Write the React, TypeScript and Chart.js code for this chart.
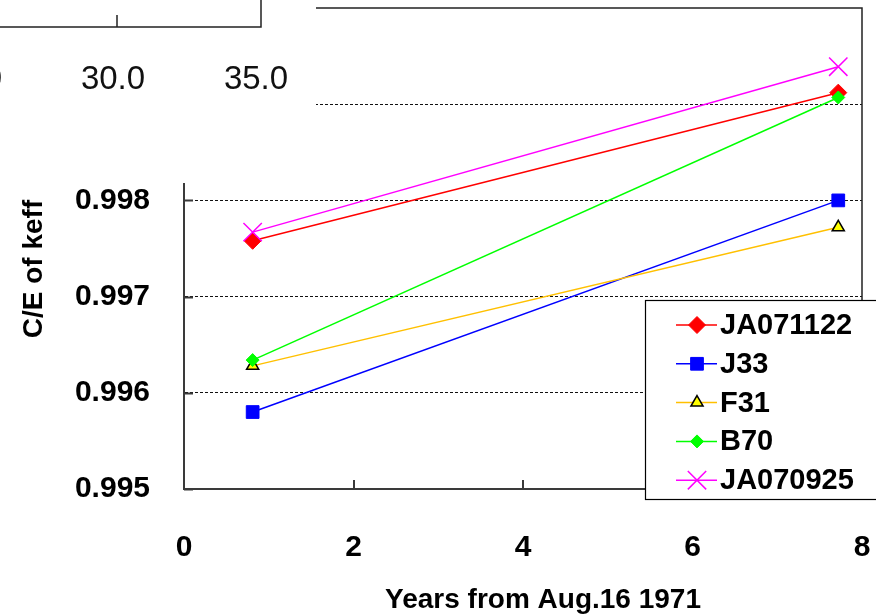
import React, { useEffect, useRef } from "react";
import { Chart, registerables } from "chart.js";
import { drawPoint } from "chart.js/helpers";

Chart.register(...registerables);

// Years elapsed since Aug. 16 1971 for the two measurements
const years = [0.81, 7.72];

// C/E of keff per core
const seriesNames = ["JA071122", "J33", "F31", "B70", "JA070925"];
const ja071122 = [0.99758, 0.99912];
const j33 = [0.9958, 0.998];
const f31 = [0.99628, 0.99772];
const b70 = [0.99634, 0.99907];
const ja070925 = [0.99767, 0.99939];

// axis extents
const xMin = 0;
const xMax = 8;
const xStep = 2;
const yMin = 0.995;
const yMax = 1.0;
const yStep = 0.001;

// tick labels of the neighbouring panel peeking in at the top-left
const neighbourTicks = [25, 30, 35];

const FONT = '"Liberation Sans", Arial, Helvetica, sans-serif';
const AXIS = "#3a3a3a";

// plot rectangle on the canvas
const PLOT_LEFT = 184;
const PLOT_TOP = 8;
const PLOT_RIGHT = 862;
const PLOT_BOTTOM = 489;
const W = 876;
const H = 616;

type SeriesStyle = {
  line: string;
  fill: string;
  stroke: string;
  pointStyle: string;
  radius: number;
  pointBorderWidth: number;
};

const styles: SeriesStyle[] = [
  { line: "#ff0000", fill: "#ff0000", stroke: "#ff0000", pointStyle: "rectRot", radius: 8.5, pointBorderWidth: 1 },
  { line: "#0000ff", fill: "#0000ff", stroke: "#0000ff", pointStyle: "rect", radius: 9, pointBorderWidth: 1 },
  { line: "#ffc000", fill: "#ffff00", stroke: "#000000", pointStyle: "triangle", radius: 7, pointBorderWidth: 1.5 },
  { line: "#00ff00", fill: "#00ff00", stroke: "#00ff00", pointStyle: "rectRot", radius: 6.5, pointBorderWidth: 1 },
  { line: "#ff00ff", fill: "#ff00ff", stroke: "#ff00ff", pointStyle: "crossRot", radius: 13, pointBorderWidth: 1.5 },
];

const seriesValues = [ja071122, j33, f31, b70, ja070925];

const near = (a: number, b: number) => Math.abs(a - b) < 1e-9;

// pins the chart area to the plot rectangle regardless of label sizes
const pinAreaPlugin = {
  id: "pinArea",
  afterLayout(chart: any) {
    const a = chart.chartArea;
    a.left = PLOT_LEFT;
    a.top = PLOT_TOP;
    a.right = PLOT_RIGHT;
    a.bottom = PLOT_BOTTOM;
    a.width = PLOT_RIGHT - PLOT_LEFT;
    a.height = PLOT_BOTTOM - PLOT_TOP;
    const sx = chart.scales.x;
    const sy = chart.scales.y;
    sx.left = PLOT_LEFT;
    sx.right = PLOT_RIGHT;
    sx.width = PLOT_RIGHT - PLOT_LEFT;
    sx.top = PLOT_BOTTOM;
    sx.bottom = H;
    sx.height = H - PLOT_BOTTOM;
    sy.top = PLOT_TOP;
    sy.bottom = PLOT_BOTTOM;
    sy.height = PLOT_BOTTOM - PLOT_TOP;
    sy.left = 0;
    sy.right = PLOT_LEFT;
    sy.width = PLOT_LEFT;
    sx.configure();
    sy.configure();
  },
};

const decorPlugin = {
  id: "decor",
  afterDraw(chart: any) {
    const { ctx, chartArea: a, scales } = chart;
    const sx = scales.x;
    const sy = scales.y;
    ctx.save();

    // inward tick marks
    ctx.strokeStyle = AXIS;
    ctx.lineWidth = 2;
    ctx.beginPath();
    sx.ticks.forEach((t: any) => {
      const px = Math.round(sx.getPixelForValue(t.value));
      ctx.moveTo(px, a.bottom);
      ctx.lineTo(px, a.bottom - 9);
    });
    sy.ticks.forEach((t: any) => {
      const py = Math.round(sy.getPixelForValue(t.value)) + 0.5;
      ctx.moveTo(a.left, py);
      ctx.lineTo(a.left + 9, py);
    });
    ctx.stroke();

    // top and right frame of the plot
    ctx.strokeStyle = "#222";
    ctx.lineWidth = 1.5;
    ctx.beginPath();
    ctx.moveTo(a.left, a.top);
    ctx.lineTo(a.right, a.top);
    ctx.lineTo(a.right, a.bottom);
    ctx.stroke();

    // neighbouring panel overlapping the upper-left corner
    ctx.fillStyle = "#ffffff";
    ctx.fillRect(0, 0, 316, 183);
    const nPx = (v: number) => 117 + (v - 30) * (143 / 5);
    ctx.strokeStyle = "#222";
    ctx.lineWidth = 1.5;
    ctx.beginPath();
    ctx.moveTo(0, 27);
    ctx.lineTo(261, 27);
    ctx.lineTo(261, 0);
    ctx.moveTo(nPx(30), 27);
    ctx.lineTo(nPx(30), 15);
    ctx.stroke();
    ctx.fillStyle = "#111";
    ctx.font = `normal 33px ${FONT}`;
    ctx.textAlign = "center";
    ctx.textBaseline = "middle";
    neighbourTicks.forEach((v) => {
      ctx.fillText(v.toFixed(1), nPx(v) - 4, 80);
    });

    // legend
    const lx = 645.5;
    const ly = 300.5;
    ctx.fillStyle = "#ffffff";
    ctx.fillRect(lx, ly, 240, 199);
    ctx.strokeStyle = "#000";
    ctx.lineWidth = 1.2;
    ctx.strokeRect(lx, ly, 240, 199);
    seriesNames.forEach((name, i) => {
      const st = styles[i];
      const ry = 325 + i * 38.8;
      ctx.strokeStyle = st.line;
      ctx.lineWidth = 1.5;
      ctx.beginPath();
      ctx.moveTo(676, ry);
      ctx.lineTo(717, ry);
      ctx.stroke();
      ctx.fillStyle = st.fill;
      ctx.strokeStyle = st.stroke;
      ctx.lineWidth = st.pointBorderWidth;
      drawPoint(ctx, { pointStyle: st.pointStyle as any, rotation: 0, radius: st.radius, borderWidth: st.pointBorderWidth }, 697, ry);
      ctx.fillStyle = "#000";
      ctx.font = `bold 29px ${FONT}`;
      ctx.textAlign = "left";
      ctx.textBaseline = "middle";
      ctx.fillText(name, 720, ry + 1);
    });

    // axis titles
    ctx.fillStyle = "#000";
    ctx.font = `bold 28px ${FONT}`;
    ctx.textAlign = "center";
    ctx.textBaseline = "middle";
    ctx.fillText("Years from Aug.16 1971", 543, 600);
    ctx.save();
    ctx.translate(34, 269);
    ctx.rotate(-Math.PI / 2);
    ctx.fillText("C/E of keff", 0, 0);
    ctx.restore();

    ctx.restore();
  },
};

export default function App() {
  const canvasRef = useRef<HTMLCanvasElement | null>(null);

  useEffect(() => {
    const canvas = canvasRef.current;
    if (!canvas) return;

    const datasets = seriesNames.map((name, i) => {
      const st = styles[i];
      return {
        label: name,
        data: years.map((yr, k) => ({ x: yr, y: seriesValues[i][k] })),
        borderColor: st.line,
        backgroundColor: st.fill,
        borderWidth: 1.5,
        pointStyle: st.pointStyle,
        pointRadius: st.radius,
        pointBackgroundColor: st.fill,
        pointBorderColor: st.stroke,
        pointBorderWidth: st.pointBorderWidth,
        showLine: true,
        fill: false,
        tension: 0,
        order: seriesNames.length - 1 - i,
      };
    });

    const chart = new Chart(canvas, {
      type: "line",
      data: { datasets: datasets as any },
      options: {
        responsive: false,
        animation: false,
        devicePixelRatio: 1,
        layout: { padding: { top: PLOT_TOP, right: W - PLOT_RIGHT, left: 0, bottom: 0 } },
        plugins: {
          legend: { display: false },
          tooltip: { enabled: false },
          title: { display: false },
        },
        scales: {
          x: {
            type: "linear",
            min: xMin,
            max: xMax,
            ticks: {
              stepSize: xStep,
              color: "#000",
              padding: 41,
              maxRotation: 0,
              font: { family: FONT, size: 30, weight: "bold" },
            },
            grid: { display: false, drawTicks: false },
            border: { display: true, color: AXIS, width: 2 },
          },
          y: {
            type: "linear",
            min: yMin,
            max: yMax,
            ticks: {
              stepSize: yStep,
              color: "#000",
              padding: 34,
              font: { family: FONT, size: 30, weight: "bold" },
              callback: (v: any) => (Number(v) > 0.9985 ? "" : Number(v).toFixed(3)),
            },
            grid: {
              drawTicks: false,
              lineWidth: 1,
              color: (c: any) =>
                c.tick && (near(c.tick.value, yMin) || near(c.tick.value, yMax)) ? "rgba(0,0,0,0)" : "#111",
            },
            border: { display: true, color: AXIS, width: 2, dash: [3, 2] },
          },
        },
      } as any,
      plugins: [pinAreaPlugin, decorPlugin],
    });

    return () => chart.destroy();
  }, []);

  return (
    <div style={{ position: "fixed", left: 0, top: 0, width: W, height: H, background: "#fff" }}>
      <canvas ref={canvasRef} width={W} height={H} style={{ display: "block" }} />
    </div>
  );
}
